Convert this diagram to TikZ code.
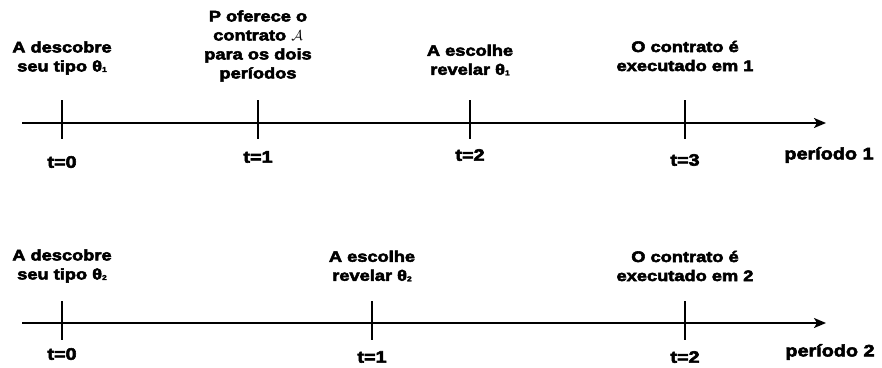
\documentclass[tikz,border=0pt]{standalone}
\usepackage{fontspec}
\setmainfont{Liberation Sans}[BoldFeatures={FakeBold=3.5,FakeStretch=1.2}]
\usetikzlibrary{positioning,arrows.meta}
\newcommand{\thsub}[1]{θ\raisebox{-0.5pt}{\fontsize{7}{7}\selectfont #1}}

\begin{document}
\begin{tikzpicture}[x=1pt,y=-1pt,
    lbl/.style={align=center,inner sep=0pt,font=\bfseries\fontsize{15.2}{19}\selectfont},
    tlbl/.style={inner sep=0pt,font=\bfseries\fontsize{16.5}{19}\selectfont},
    axis/.style={line width=1.8pt,-{Stealth[length=12pt,width=10pt,inset=3pt]}},
    tick/.style={line width=1.8pt}]
\useasboundingbox (0,0) rectangle (882,367);

% periodo 1
\coordinate (s1) at (22,123);
\coordinate (e1) at (826,123);
\draw[axis] (s1) -- (e1);
\coordinate (p10) at (62,123);
\coordinate (p11) at (258,123);
\coordinate (p12) at (470,123);
\coordinate (p13) at (685,123);
\draw[tick] ([yshift=23]p10) -- ([yshift=-16]p10);
\draw[tick] ([yshift=23]p11) -- ([yshift=-16]p11);
\draw[tick] ([yshift=23]p12) -- ([yshift=-16]p12);
\draw[tick] ([yshift=23]p13) -- ([yshift=-16]p13);
\node[lbl] (d10) at (62,58) {A descobre\\seu tipo \thsub{1}};
\node[lbl] (d11) at (258,46) {P oferece o\\contrato $\mathcal{A}$\\para os dois\\períodos};
\node[lbl] (d12) at (470,60) {A escolhe\\revelar \thsub{1}};
\node[lbl] (d13) at (685,56) {O contrato é\\executado em 1};
\node[tlbl] (t10) at (62,162) {t=0};
\node[tlbl] (t11) at (258,157) {t=1};
\node[tlbl] (t12) at (470,155) {t=2};
\node[tlbl] (t13) at (685,160) {t=3};
\node[tlbl] (n1) at (829,155) {período 1};

% periodo 2
\coordinate (s2) at (22,323);
\coordinate (e2) at (826,323);
\draw[axis] (s2) -- (e2);
\coordinate (p20) at (62,323);
\coordinate (p21) at (372,323);
\coordinate (p22) at (685,323);
\draw[tick] ([yshift=22]p20) -- ([yshift=-17]p20);
\draw[tick] ([yshift=22]p21) -- ([yshift=-17]p21);
\draw[tick] ([yshift=22]p22) -- ([yshift=-17]p22);
\node[lbl] (d20) at (62,266) {A descobre\\seu tipo \thsub{2}};
\node[lbl] (d21) at (372,266) {A escolhe\\revelar \thsub{2}};
\node[lbl] (d22) at (685,266) {O contrato é\\executado em 2};
\node[tlbl] (t20) at (62,354) {t=0};
\node[tlbl] (t21) at (372,357) {t=1};
\node[tlbl] (t22) at (685,357) {t=2};
\node[tlbl] (n2) at (830,352) {período 2};
\end{tikzpicture}
\end{document}
